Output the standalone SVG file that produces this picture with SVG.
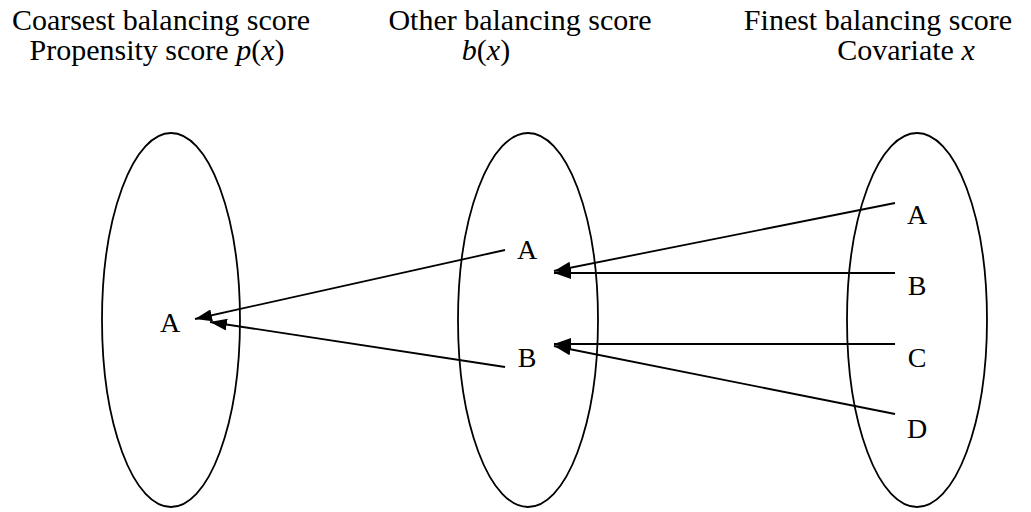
<svg xmlns="http://www.w3.org/2000/svg" width="1031" height="512" viewBox="0 0 1031 512">
<style>
text{font-family:"Liberation Serif","Times New Roman",serif;fill:#000}
.h{font-size:30px;text-anchor:middle}
.l{font-size:28px;text-anchor:middle}
.i{font-style:italic}
.e{fill:none;stroke:#000;stroke-width:1.8}
.c{fill:none;stroke:#000;stroke-width:1.8;marker-end:url(#ah)}
</style>
<defs>
<marker id="ah" viewBox="0 0 17 12" refX="17" refY="6" markerWidth="17" markerHeight="12" markerUnits="userSpaceOnUse" orient="auto">
<path d="M0,0 L17,6 L0,12 Z" fill="#000"/>
</marker>
</defs>
<g id="headers">
<text class="h" x="161" y="30">Coarsest balancing score</text>
<text class="h" x="157" y="60">Propensity score  <tspan class="i">p</tspan>(<tspan class="i">x</tspan>)</text>
<text class="h" x="520" y="30">Other balancing score</text>
<text class="h" x="486" y="60"><tspan class="i">b</tspan>(<tspan class="i">x</tspan>)</text>
<text class="h" x="878" y="30">Finest balancing score</text>
<text class="h" x="906" y="60">Covariate  <tspan class="i">x</tspan></text>
</g>
<g id="set-p">
<ellipse class="e" cx="171" cy="320" rx="69" ry="187"/>
<text class="l" x="170" y="332">A</text>
</g>
<g id="set-b">
<ellipse class="e" cx="528" cy="320" rx="70" ry="187"/>
<text class="l" x="527" y="259">A</text>
<text class="l" x="527" y="367">B</text>
</g>
<g id="set-x">
<ellipse class="e" cx="917" cy="320" rx="70" ry="187"/>
<text class="l" x="917" y="224">A</text>
<text class="l" x="917" y="295">B</text>
<text class="l" x="917" y="367">C</text>
<text class="l" x="917" y="438">D</text>
</g>
<g id="connectors">
<line class="c" x1="505" y1="250" x2="195" y2="319"/>
<line class="c" x1="505" y1="367" x2="210" y2="322"/>
<line class="c" x1="895" y1="203" x2="554" y2="271"/>
<line class="c" x1="895" y1="273" x2="554" y2="273"/>
<line class="c" x1="895" y1="344" x2="554" y2="344"/>
<line class="c" x1="895" y1="414" x2="554" y2="346"/>
</g>
</svg>
